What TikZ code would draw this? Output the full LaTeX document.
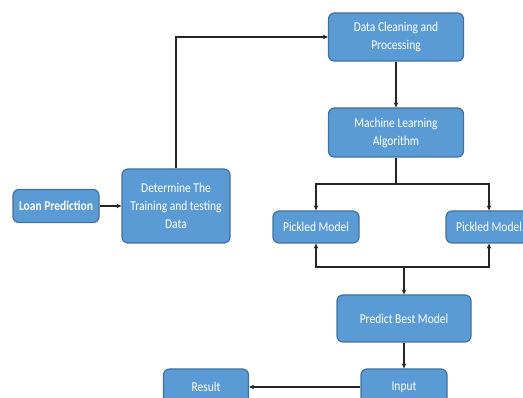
\documentclass[tikz,border=0pt]{standalone}
\usepackage{fontspec}
\setmainfont{Carlito}[FakeStretch=0.85]
\usetikzlibrary{arrows.meta}
\definecolor{boxfill}{HTML}{5B9BD5}
\definecolor{boxline}{HTML}{41719C}
\begin{document}
\begin{tikzpicture}[x=1pt,y=-1pt,
  box/.style={draw=boxline, line width=1.2pt, fill=boxfill, rounded corners=6pt,
    text=white, align=center, font=\fontsize{13.5}{18}\selectfont, inner sep=2pt},
  conn/.style={line width=1.7pt, draw=black!85},
  arr/.style={conn, -{Stealth[length=5pt,width=4.5pt]}}]
\useasboundingbox (0,0) rectangle (523,398);
\clip (0,0) rectangle (523,398);
\node[box, font=\fontsize{13.5}{18}\selectfont\bfseries, minimum width=86pt, minimum height=33pt] (loan) at (56,206) {Loan Prediction};
\node[box, minimum width=108pt, minimum height=74pt] (det) at (176,206) {Determine The\\Training and testing\\Data};
\node[box, minimum width=135pt, minimum height=48pt] (clean) at (396,37) {Data Cleaning and\\Processing};
\node[box, minimum width=135pt, minimum height=49pt] (ml) at (396,132.5) {Machine Learning\\Algorithm};
\node[box, minimum width=86pt, minimum height=32pt] (pl) at (316,227) {Pickled Model};
\node[box, minimum width=86pt, minimum height=32pt] (pr) at (489,227) {Pickled Model};
\node[box, minimum width=134pt, minimum height=47pt] (best) at (404,318.5) {Predict Best Model};
\node[box, minimum width=86pt, minimum height=36pt] (inp) at (404,387) {Input};
\node[box, minimum width=85pt, minimum height=36pt] (res) at (206,387) {Result};
\coordinate (split) at (396,184);
\coordinate (join) at (404,267);
\draw[arr] (loan.east) -- (det.west);
\draw[arr] (det.north) |- (clean.west);
\draw[arr] (clean.south) -- (ml.north);
\draw[conn] (ml.south) -- (split);
\draw[arr] (split) -| (pl.north);
\draw[arr] (split) -| (pr.north);
\draw[arr] (join) -| (pl.south);
\draw[arr] (join) -| (pr.south);
\draw[arr] (join) -- (best.north);
\draw[arr] (best.south) -- (inp.north);
\draw[arr] (inp.west) -- (res.east);
\end{tikzpicture}
\end{document}
